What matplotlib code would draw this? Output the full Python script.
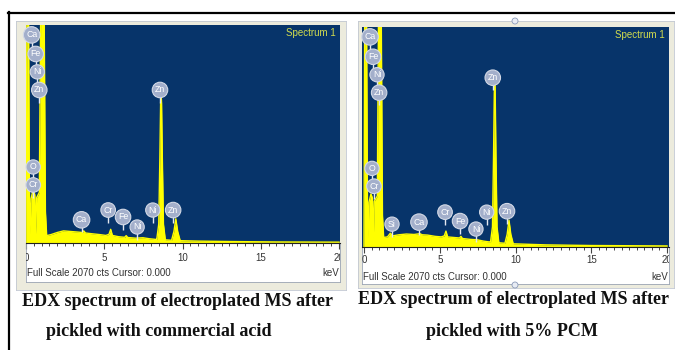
import matplotlib
matplotlib.use("Agg")
from matplotlib import pyplot as plt
from matplotlib.patches import Ellipse

W, H = 675, 350  # tamaño en pixeles

escala = 2070  # Full Scale (cts)
ticks_kev = [0, 5, 10, 15, 20]

# espectro izquierdo (acido comercial) keV / cuentas
e_izq = [0.00, 0.06, 0.16, 0.22, 0.26, 0.32, 0.45, 0.56, 0.62, 0.68, 0.85, 0.94, 1.16, 1.24,
         1.32, 1.60, 2.00, 2.40, 2.80, 3.20, 3.60, 3.69, 3.80, 4.20, 4.70, 5.10, 5.30, 5.41,
         5.52, 5.90, 6.30, 6.40, 6.50, 7.00, 7.47, 7.90, 8.30, 8.35, 8.48, 8.55, 8.60, 8.63,
         8.66, 8.71, 8.78, 8.90, 9.30, 9.45, 9.57, 9.69, 9.85, 11.0, 13.0, 16.0, 20.0]
c_izq = [0, 2200, 2200, 400, 90, 420, 500, 460, 90, 430, 480, 2200, 2200, 300,
         70, 80, 100, 115, 110, 105, 100, 115, 95, 88, 80, 72, 82, 130,
         72, 60, 54, 70, 52, 46, 50, 40, 34, 32, 180, 800, 1330, 1420,
         1330, 800, 180, 30, 26, 110, 230, 110, 22, 18, 14, 10, 8]

# espectro derecho (5% PCM)
e_der = [0.00, 0.05, 0.17, 0.23, 0.27, 0.33, 0.46, 0.56, 0.62, 0.68, 0.88, 0.96, 1.14, 1.22,
         1.30, 1.55, 1.74, 1.90, 2.30, 2.80, 3.30, 3.69, 3.85, 4.20, 4.70, 5.10, 5.30, 5.41,
         5.52, 5.90, 6.30, 6.40, 6.50, 7.00, 7.47, 7.90, 8.30, 8.35, 8.48, 8.55, 8.60, 8.63,
         8.66, 8.71, 8.78, 8.90, 9.30, 9.45, 9.57, 9.69, 9.85, 10.3, 12.0, 15.0, 20.0]
c_der = [0, 2200, 2200, 400, 90, 420, 500, 460, 90, 430, 480, 2200, 2200, 300,
         90, 95, 130, 105, 115, 122, 118, 125, 115, 112, 100, 95, 105, 150,
         95, 90, 85, 100, 80, 72, 68, 55, 47, 45, 190, 850, 1450, 1530,
         1450, 850, 190, 40, 35, 120, 253, 120, 30, 28, 20, 14, 10]

# etiquetas de elementos (centro de la etiqueta en keV / cuentas)
el_izq = ["Ca", "Fe", "Ni", "Zn", "O", "Cr", "Ca", "Cr", "Fe", "Ni", "Ni", "Zn", "Zn"]
kev_izq = [0.36, 0.62, 0.72, 0.85, 0.46, 0.46, 3.55, 5.25, 6.2, 7.1, 8.1, 9.4, 8.56]
cts_izq = [1976, 1795, 1625, 1453, 722, 551, 220, 313, 247, 152, 313, 313, 1453]

el_der = ["Ca", "Fe", "Ni", "Zn", "O", "Cr", "Si", "Ca", "Cr", "Fe", "Ni", "Ni", "Zn", "Zn"]
kev_der = [0.40, 0.60, 0.86, 1.0, 0.53, 0.66, 1.85, 3.63, 5.35, 6.34, 7.39, 8.1, 9.44, 8.5]
cts_der = [1977, 1790, 1621, 1452, 740, 572, 215, 234, 328, 244, 169, 328, 337, 1593]

azul = "#07346a"
amarillo = "#ffff00"
beige = "#ecebdd"


def caja(x0, y0, x1, y1):
    # pixeles (desde arriba) a fraccion de figura
    return [x0 / W, 1 - y1 / H, (x1 - x0) / W, (y1 - y0) / H]


def panel(fig, marco, grafica, tira, e, c, els, kevs, ctss, xmin, xmax, ytick, yfull):
    m = fig.add_axes(caja(*marco))
    m.set_facecolor(beige)
    m.set_xticks([])
    m.set_yticks([])
    for s in m.spines.values():
        s.set_color("#c2c8d2")
        s.set_linewidth(0.6)

    ax = fig.add_axes(caja(*grafica))
    ax.set_facecolor(azul)
    ax.fill_between(e, c, 0, color=amarillo, lw=0)
    ax.plot(e, c, color=amarillo, lw=1.0)
    ax.set_xlim(xmin, xmax)
    ax.set_ylim(0, escala)
    ax.set_xticks([])
    ax.set_yticks([])
    for s in ax.spines.values():
        s.set_visible(False)
    ax.text(0.987, 0.963, "Spectrum 1", transform=ax.transAxes, ha="right", va="center",
            color="#d2dc4e", fontsize=7, family="Liberation Sans")

    for el, k, ct in zip(els, kevs, ctss):
        ax.vlines(k, ct - 120, ct, color="#e4e8f0", lw=1.0, zorder=3)
        ax.text(k, ct, el, ha="center", va="center", fontsize=6.3, color="#ffffff",
                family="Liberation Sans", zorder=4,
                bbox=dict(boxstyle="circle,pad=0.3", fc="#a3afcb", ec="#d3d9e6", lw=0.8))

    t = fig.add_axes(caja(*tira))
    t.set_facecolor("white")
    t.set_xlim(xmin, xmax)
    t.set_ylim(0, 1)
    t.set_yticks([])
    t.xaxis.set_ticks_position("top")
    t.set_xticks(ticks_kev)
    t.set_xticks([v * 0.5 for v in range(41)], minor=True)
    t.tick_params(axis="x", which="both", direction="in", labeltop=False, labelbottom=False,
                  color="#444444")
    t.tick_params(axis="x", which="major", length=4, width=0.8)
    t.tick_params(axis="x", which="minor", length=2.5, width=0.7)
    for s in t.spines.values():
        s.set_color("#9aa4b4")
        s.set_linewidth(0.6)
    t.spines["top"].set_color("#222222")
    t.spines["top"].set_linewidth(0.8)
    for v in ticks_kev:
        t.text(v, ytick, str(v), ha="center", va="center", fontsize=7, color="#333333",
               family="Liberation Sans", clip_on=True)
    t.text(0.004, yfull, "Full Scale 2070 cts Cursor: 0.000", transform=t.transAxes,
           ha="left", va="center", fontsize=7, color="#333333", family="Liberation Sans")
    t.text(0.996, yfull, "keV", transform=t.transAxes, ha="right", va="center",
           fontsize=7, color="#333333", family="Liberation Sans")


fig = plt.figure(figsize=(W / 100, H / 100), dpi=100)
fig.patch.set_facecolor("white")

panel(fig, (16, 21, 346, 290), (26, 25, 340, 243), (26, 243, 340, 282),
      e_izq, c_izq, el_izq, kev_izq, cts_izq, 0.0, 20.06, 0.615, 0.23)
panel(fig, (358, 21, 674, 288), (362, 27, 669, 247), (362, 247, 669, 284),
      e_der, c_der, el_der, kev_der, cts_der, -0.13, 20.13, 0.65, 0.19)

# marco negro exterior
fig.add_artist(plt.Line2D([8 / W, 1], [1 - 13 / H, 1 - 13 / H], color="black", lw=1.6))
fig.add_artist(plt.Line2D([9 / W, 9 / W], [0, 1 - 12 / H], color="black", lw=1.6))

# asas de seleccion del panel derecho
for yy in (21, 285):
    fig.add_artist(Ellipse((515 / W, 1 - yy / H), 6 / W, 6 / H, fc="#e8ecf4", ec="#8a9ab8", lw=0.6))

fuente = dict(family="Liberation Serif", weight="bold", fontsize=13, color="#111111",
              ha="center", va="center")
fig.text(177 / W, 1 - 302 / H, "EDX spectrum of electroplated MS after", **fuente)
fig.text(159 / W, 1 - 332 / H, "pickled with commercial acid", **fuente)
fig.text(513 / W, 1 - 300 / H, "EDX spectrum of electroplated MS after", **fuente)
fig.text(512 / W, 1 - 332 / H, "pickled with 5% PCM", **fuente)

fig.savefig("out.png", dpi=100)
